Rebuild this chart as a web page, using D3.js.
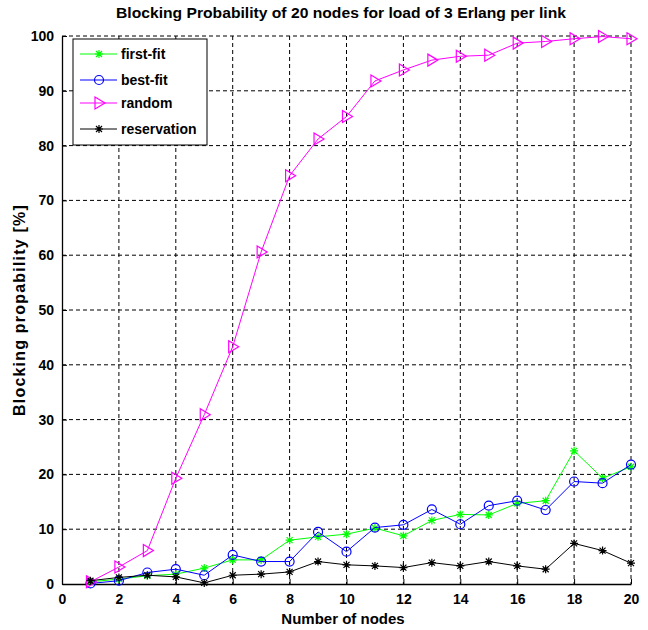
<!DOCTYPE html>
<html>
<head>
<meta charset="utf-8">
<script src="https://cdn.jsdelivr.net/npm/d3@7"></script>
<style>
  body { margin: 0; background: #fff; }
  text { font-family: "Liberation Sans", Arial, sans-serif; font-weight: bold; }
</style>
</head>
<body>
<svg id="chart" width="648" height="630"></svg>
<script>
let nodes = d3.range(1, 21);
let firstFit = [0.4, 0.9, 1.5, 1.8, 2.9, 4.4, 4.4, 8.0, 8.6, 9.1, 10.2, 8.8, 11.6, 12.7, 12.6, 14.7, 15.2, 24.3, 19.3, 21.4];
let bestFit = [0.1, 0.6, 2.1, 2.7, 1.6, 5.3, 4.1, 4.1, 9.5, 5.9, 10.3, 10.8, 13.6, 10.9, 14.3, 15.2, 13.5, 18.7, 18.4, 21.8];
let random = [0.4, 3.1, 6.1, 19.3, 30.9, 43.3, 60.6, 74.5, 81.2, 85.3, 91.8, 93.8, 95.6, 96.3, 96.5, 98.7, 99.0, 99.5, 99.9, 99.5];
let reservation = [0.6, 1.2, 1.6, 1.3, 0.2, 1.6, 1.8, 2.2, 4.1, 3.5, 3.3, 3.0, 3.9, 3.3, 4.1, 3.3, 2.7, 7.4, 6.1, 3.8];
let xTicks = d3.range(0, 21, 2);
let yTicks = d3.range(0, 101, 10);

let series = [
  { name: 'first-fit', values: firstFit, color: '#00ff00', marker: 'star' },
  { name: 'best-fit', values: bestFit, color: '#0000ff', marker: 'circle' },
  { name: 'random', values: random, color: '#ff00ff', marker: 'tri' },
  { name: 'reservation', values: reservation, color: '#000000', marker: 'star' }
];

let svg = d3.select('#chart');
let plotL = 62, plotR = 631, plotT = 36, plotB = 584;

let x = d3.scaleLinear().domain([0, 20]).range([plotL, plotR]);
let y = d3.scaleLinear().domain([0, 100]).range([plotB, plotT]);

// grid
svg.append('g').selectAll('line')
  .data(xTicks.slice(1))
  .enter().append('line')
  .attr('x1', d => x(d)).attr('x2', d => x(d))
  .attr('y1', plotT).attr('y2', plotB)
  .attr('stroke', '#000').attr('stroke-dasharray', '4,3');
svg.append('g').selectAll('line')
  .data(yTicks.slice(1))
  .enter().append('line')
  .attr('x1', plotL).attr('x2', plotR)
  .attr('y1', d => y(d)).attr('y2', d => y(d))
  .attr('stroke', '#000').attr('stroke-dasharray', '4,3');

// axes (ticks inward)
let xAxis = svg.append('g')
  .attr('transform', `translate(0,${plotB})`)
  .call(d3.axisBottom(x).tickValues(xTicks).tickSizeInner(-5).tickSizeOuter(0).tickPadding(10));
let yAxis = svg.append('g')
  .attr('transform', `translate(${plotL},0)`)
  .call(d3.axisLeft(y).tickValues(yTicks).tickSizeInner(-5).tickSizeOuter(0).tickPadding(8));
[xAxis, yAxis].forEach(a => {
  a.select('.domain').attr('stroke', '#000').attr('stroke-width', 1.3);
  a.selectAll('.tick line').attr('stroke', '#000');
  a.selectAll('text').attr('font-size', 14).attr('fill', '#000')
    .style('font-family', '"Liberation Sans", Arial, sans-serif');
});

let line = d3.line()
  .x((d, i) => x(nodes[i]))
  .y(d => y(d));

let drawMarker = (g, m, color) => {
  if (m === 'star') {
    g.append('path')
      .attr('d', 'M-4,0L4,0M0,-4L0,4M-3,-3L3,3M-3,3L3,-3')
      .attr('stroke', color).attr('stroke-width', 1.2).attr('fill', 'none');
  } else if (m === 'circle') {
    g.append('circle').attr('r', 4.5)
      .attr('stroke', color).attr('stroke-width', 1.2).attr('fill', 'none');
  } else {
    g.append('path').attr('d', 'M-4,-6L6,0L-4,6Z')
      .attr('stroke', color).attr('stroke-width', 1.2).attr('fill', 'none');
  }
};

series.forEach(s => {
  svg.append('path')
    .datum(s.values)
    .attr('d', line)
    .attr('fill', 'none')
    .attr('stroke', s.color)
    .attr('stroke-width', 1);
  svg.append('g').selectAll('g')
    .data(s.values)
    .enter().append('g')
    .attr('transform', (d, i) => `translate(${x(nodes[i])},${y(d)})`)
    .each(function () { drawMarker(d3.select(this), s.marker, s.color); });
});

// legend
let legend = svg.append('g');
legend.append('rect')
  .attr('x', 73).attr('y', 39).attr('width', 134).attr('height', 106)
  .attr('fill', '#fff').attr('stroke', '#000');
let ly = [54, 80, 103, 129];
series.forEach((s, i) => {
  legend.append('line')
    .attr('x1', 80).attr('x2', 117).attr('y1', ly[i]).attr('y2', ly[i])
    .attr('stroke', s.color);
  let g = legend.append('g').attr('transform', `translate(99,${ly[i]})`);
  drawMarker(g, s.marker, s.color);
  legend.append('text')
    .attr('x', 121).attr('y', ly[i] + 5)
    .attr('font-size', 14)
    .text(s.name);
});

// titles
svg.append('text')
  .attr('x', 341).attr('y', 18)
  .attr('text-anchor', 'middle')
  .attr('font-size', 15)
  .attr('textLength', 450)
  .attr('lengthAdjust', 'spacingAndGlyphs')
  .text('Blocking Probability of 20 nodes for load of 3 Erlang per link');
svg.append('text')
  .attr('x', 343).attr('y', 624)
  .attr('text-anchor', 'middle')
  .attr('font-size', 15)
  .text('Number of nodes');
svg.append('text')
  .attr('transform', 'translate(25,310) rotate(-90)')
  .attr('text-anchor', 'middle')
  .attr('font-size', 16)
  .attr('letter-spacing', 1.2)
  .text('Blocking propability [%]');
</script>
</body>
</html>
